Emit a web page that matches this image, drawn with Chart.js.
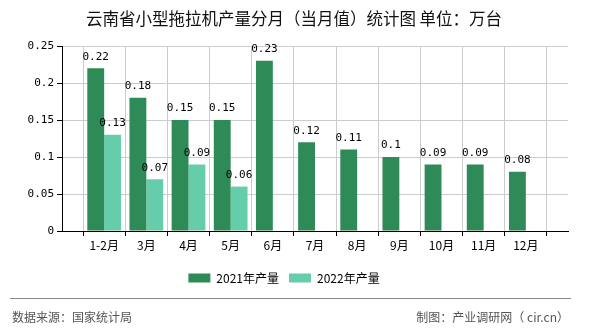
<!DOCTYPE html>
<html>
<head>
    <title>云南省小型拖拉机产量分月（当月值）统计图</title>
    <script src="https://cdn.jsdelivr.net/npm/chart.js"></script>
    <style>
        body { margin: 0; background: #fff; }
        #wrap { position: relative; width: 590px; height: 330px; }
        #title { position: absolute; left: 0; top: 6px; width: 588px; text-align: center;
                 font: 16.5px "Noto Sans CJK SC", sans-serif; color: #111; white-space: nowrap; }
        #footer { position: absolute; left: 10px; top: 298px; width: 561px; border-top: 1px solid #888;
                  font: 12px "Noto Sans CJK SC", sans-serif; color: #555; }
        #footer .l { position: absolute; left: 2px; top: 9px; }
        #footer .r { position: absolute; right: 2px; top: 9px; }
    </style>
</head>
<body>
<div id="wrap">
    <canvas id="chart" width="590" height="330"></canvas>
    <div id="title">云南省小型拖拉机产量分月（当月值）统计图 单位：万台</div>
    <div id="footer">
        <span class="l">数据来源：国家统计局</span>
        <span class="r">制图：产业调研网（ cir.cn）</span>
    </div>
</div>
<script>
    const months = ['1-2月', '3月', '4月', '5月', '6月', '7月', '8月', '9月', '10月', '11月', '12月'];
    const output2021 = [0.22, 0.18, 0.15, 0.15, 0.23, 0.12, 0.11, 0.1, 0.09, 0.09, 0.08];
    const output2022 = [0.13, 0.07, 0.09, 0.06];
    const yTicks = [0, 0.05, 0.1, 0.15, 0.2, 0.25];

    // empty slot at each end so the groups sit on the grid lines
    const pad = arr => [null, ...arr, ...Array(months.length - arr.length).fill(null), null];
    const labels = ['', ...months, ''];

    const mono = '"DejaVu Sans Mono", monospace';

    const valueLabels = {
        id: 'valueLabels',
        afterDatasetsDraw(chart) {
            const ctx = chart.ctx;
            ctx.save();
            ctx.font = '11px ' + mono;
            ctx.fillStyle = '#000';
            ctx.textAlign = 'center';
            ctx.textBaseline = 'bottom';
            chart.data.datasets.forEach((ds, i) => {
                chart.getDatasetMeta(i).data.forEach((bar, j) => {
                    if (ds.data[j] == null) return;
                    ctx.fillText(String(ds.data[j]), bar.x, bar.y - 6);
                });
            });
            ctx.restore();
        }
    };

    new Chart(document.getElementById('chart'), {
        type: 'bar',
        data: {
            labels: labels,
            datasets: [{
                label: '2021年产量',
                data: pad(output2021),
                backgroundColor: '#2E8B57'
            }, {
                label: '2022年产量',
                data: pad(output2022),
                backgroundColor: '#66CDAA'
            }]
        },
        options: {
            responsive: false,
            animation: false,
            layout: { padding: { left: 0, right: 22, top: 46, bottom: 36 } },
            barPercentage: 1,
            categoryPercentage: 0.8,
            plugins: {
                title: { display: false },
                legend: {
                    position: 'bottom',
                    labels: {
                        boxWidth: 22,
                        boxHeight: 9,
                        color: '#000',
                        font: { size: 12, family: '"Noto Sans CJK SC", sans-serif' }
                    }
                },
                tooltip: { enabled: false }
            },
            scales: {
                x: {
                    offset: false,
                    grid: { color: '#ccc', tickColor: '#000', tickLength: 5 },
                    border: { color: '#000' },
                    ticks: { color: '#000', font: { size: 12, family: '"Noto Sans CJK SC", sans-serif' }, padding: 2, maxRotation: 0, autoSkip: false },
                    afterFit: s => { s.height = 31; }
                },
                y: {
                    min: 0,
                    max: 0.25,
                    afterBuildTicks: s => { s.ticks = yTicks.map(v => ({ value: v })); },
                    grid: { color: '#ccc', tickColor: '#000', tickLength: 5 },
                    border: { color: '#000' },
                    ticks: {
                        color: '#000',
                        font: { size: 11, family: mono },
                        padding: 3,
                        callback: v => String(parseFloat(v.toFixed(2)))
                    },
                    afterFit: s => { s.width = 62; }
                }
            }
        },
        plugins: [valueLabels]
    });
</script>
</body>
</html>
